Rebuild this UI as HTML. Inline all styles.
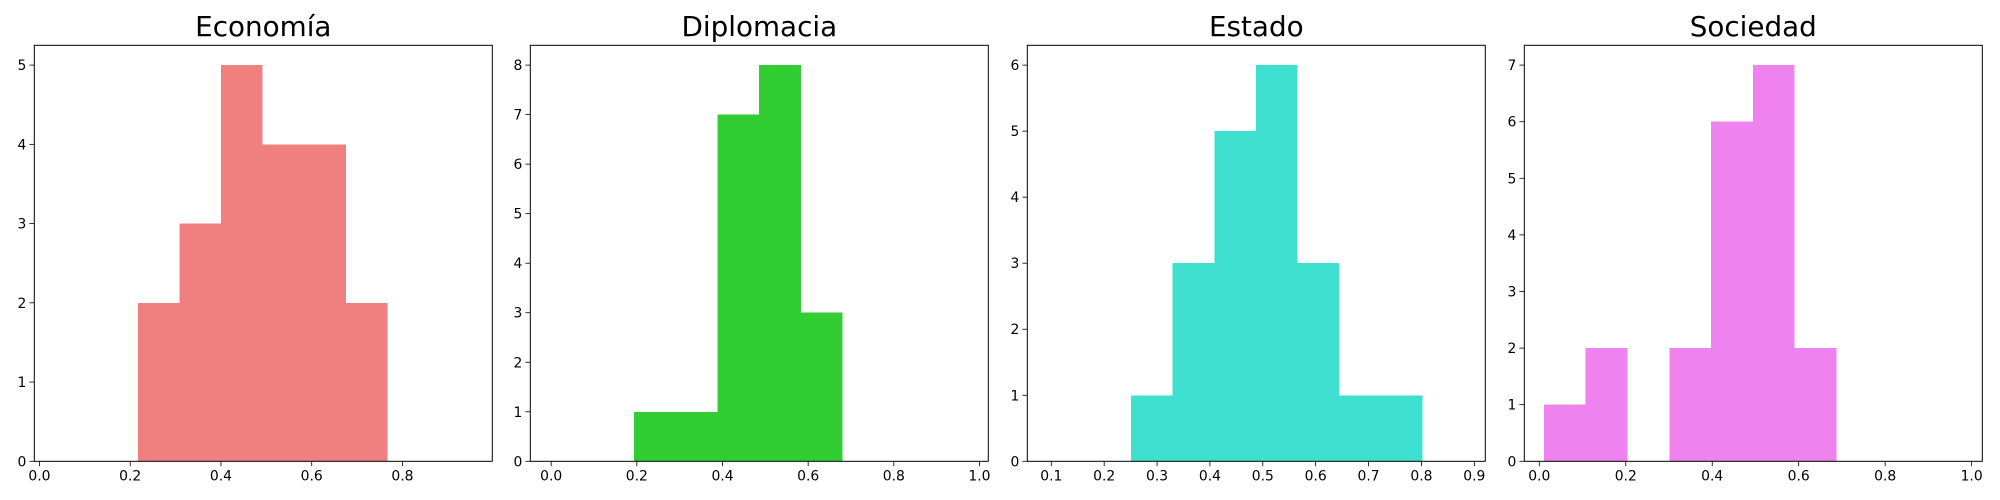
<!DOCTYPE html>
<html><head><meta charset="utf-8"><style>
html,body{margin:0;padding:0;background:#fff;}
svg{display:block;font-family:"DejaVu Sans","Liberation Sans",sans-serif;}
</style></head><body>
<svg id="chart" width="2000" height="500" viewBox="0 0 2000 500"></svg>
<script>
// Data
const titles = ["Economía","Diplomacia","Estado","Sociedad"];
const colors = ["#f08080","#32cd32","#40e0d0","#ee82ee"];
const binStarts = [0.2168, 0.193, 0.2508, 0.0108];
const binWidths = [0.0917, 0.0975, 0.0787, 0.0966];
const countsEconomia = [2,3,5,4,4,2];
const countsDiplomacia = [1,1,7,8,3];
const countsEstado = [1,3,5,6,3,1,1];
const countsSociedad = [1,2,0,2,6,7,2];
const xTicks0 = [0.0,0.2,0.4,0.6,0.8];
const xTicks1 = [0.0,0.2,0.4,0.6,0.8,1.0];
const xTicks2 = [0.1,0.2,0.3,0.4,0.5,0.6,0.7,0.8,0.9];
const xTicks3 = [0.0,0.2,0.4,0.6,0.8,1.0];
const yTicks0 = [0,1,2,3,4,5];
const yTicks1 = [0,1,2,3,4,5,6,7,8];
const yTicks2 = [0,1,2,3,4,5,6];
const yTicks3 = [0,1,2,3,4,5,6,7];

// Layout
const counts = [countsEconomia,countsDiplomacia,countsEstado,countsSociedad];
const xTicks = [xTicks0,xTicks1,xTicks2,xTicks3];
const yTicks = [yTicks0,yTicks1,yTicks2,yTicks3];
const axLeft = [34.3,530.3,1027.3,1524.3];
const axW = 458;
const axTop = 45.3, axBot = 461.3;
const xDom = [[-0.0114,0.998],[-0.0488,1.0206],[0.0546,0.9208],[-0.0347,1.0247]];
const yMax = [5.25,8.4,6.3,7.35];

const NS="http://www.w3.org/2000/svg";
const svg=document.getElementById('chart');
function mk(tag,attrs,parent){const e=document.createElementNS(NS,tag);for(const k in attrs)e.setAttribute(k,attrs[k]);(parent||svg).appendChild(e);return e;}

for(let p=0;p<4;p++){
  const g=mk('g',{});
  
  
  const L=axLeft[p], R=L+axW;
  const xs=v=>L+(v-xDom[p][0])/(xDom[p][1]-xDom[p][0])*axW;
  const ys=v=>axBot-(v/yMax[p])*(axBot-axTop);
  const c=counts[p];
  for(let i=0;i<c.length;i++){
    if(c[i]===0) continue;
    const x0=xs(binStarts[p]+i*binWidths[p]), x1=xs(binStarts[p]+(i+1)*binWidths[p]);
    const r=mk('rect',{x:x0,y:ys(c[i]),width:x1-x0,height:axBot-ys(c[i]),fill:colors[p],'shape-rendering':'crispEdges'},g);
    
    
  }
  const frame=mk('rect',{x:L,y:axTop,width:axW,height:axBot-axTop,fill:'none',stroke:'#000','stroke-width':1},g);
  
  
  xTicks[p].forEach(v=>{
    const x=xs(v);
    mk('line',{x1:x,x2:x,y1:axBot,y2:axBot+4.9,stroke:'#000','stroke-width':0.8},g);
    const t=mk('text',{x:x,y:axBot+19,'font-size':13.9,'text-anchor':'middle',fill:'#000'},g);
    t.textContent=v.toFixed(1);
    
    
  });
  yTicks[p].forEach(v=>{
    const y=ys(v);
    mk('line',{x1:L-4.9,x2:L,y1:y,y2:y,stroke:'#000','stroke-width':0.8},g);
    const t=mk('text',{x:L-8,y:y+5,'font-size':13.9,'text-anchor':'end',fill:'#000'},g);
    t.textContent=String(v);
    
    
  });
  const tt=mk('text',{x:L+axW/2,y:36,'font-size':27.8,'text-anchor':'middle',fill:'#000'},g);
  tt.textContent=titles[p];
  
  
}
</script>
</body></html>
